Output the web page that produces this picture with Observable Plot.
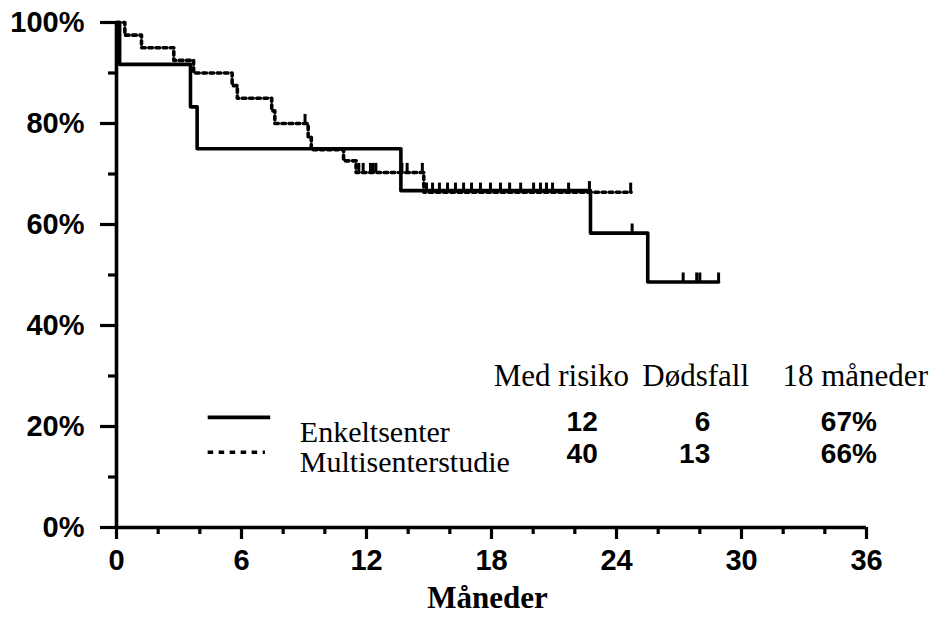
<!DOCTYPE html>
<html>
<head>
<meta charset="utf-8">
<script src="https://cdn.jsdelivr.net/npm/d3@7"></script>
<script src="https://cdn.jsdelivr.net/npm/@observablehq/plot@0.6"></script>
<style>
  html, body { margin: 0; padding: 0; background: white; }
</style>
</head>
<body>
<div id="chart"></div>
<script>
// ---- data ----
const singleTimes = [0, 0.15, 3.55, 3.87, 13.65, 22.75, 25.5, 28.9];
const singleSurv  = [100, 91.7, 83.3, 75.0, 66.7, 58.3, 48.6, 48.6];
const singleCensor = [22.7, 24.75, 27.2, 27.85, 28.0, 28.9];

const multiTimes = [0, 0.4, 1.2, 2.75, 3.7, 5.55, 5.8, 7.45, 7.6, 9.2, 9.35, 10.9, 11.5, 14.75, 24.7];
const multiSurv  = [100, 97.5, 95, 92.5, 90, 87.5, 85, 82.5, 80, 77.4, 74.8, 72.6, 70.3, 66.4, 66.4];
const multiCensor = [9.05, 11.63, 11.84, 12.19, 12.32, 12.45, 13.7, 13.95, 14.68,
  14.88, 15.17, 15.5, 15.89, 16.27, 16.66, 17.04, 17.47, 17.95, 18.43, 18.87, 19.4,
  20.02, 20.35, 20.64, 20.93, 21.7, 24.68];

const groups = ["Enkeltsenter", "Multisenterstudie"];
const atRisk = [12, 40];
const deaths = [6, 13];
const surv18 = ["67%", "66%"];
const tableHeaders = ["Med risiko", "Dødsfall", "18 måneder"];

const xTicks = [0, 6, 12, 18, 24, 30, 36];
const xMinor = [2, 4, 8, 10, 14, 16, 20, 22, 26, 28, 32, 34];
const yTicks = [0, 20, 40, 60, 80, 100];
const yMinor = [10, 30, 50, 70, 90];

// ---- helpers ----
const toPoints = (ts, ss) => ts.map((t, i) => ({t, s: ss[i]}));
const stepAt = (ts, ss, t) => {
  let v = ss[0];
  for (let i = 0; i < ts.length; i++) if (ts[i] <= t) v = ss[i];
  return v;
};
const singlePts = toPoints(singleTimes, singleSurv);
const multiPts = toPoints(multiTimes, multiSurv);
const singleCens = singleCensor.map(t => ({t, s: stepAt(singleTimes, singleSurv, t)}));
const multiCens = multiCensor.map(t => ({t, s: stepAt(multiTimes, multiSurv, t)}));

const tickH = 1.8;
const serif = "Liberation Serif";
const sans = "Liberation Sans";
const lw = 3.6;

// table layout (in data units)
const headerX = [21.35, 27.8];
const headerEndX = 38.95;
const numX = [23.1, 28.5, 36.5];
const headerY = 28.1;
const rowY = [19.2, 12.7];
const legendX1 = 4.4;
const legendLineY = [21.8, 14.9];
const legendTextX = 8.8;
const legendTextY = [17.0, 10.9];

const rows = groups.map((g, i) => ({g, i}));

const chart = Plot.plot({
  width: 933,
  height: 619,
  marginLeft: 116,
  marginRight: 67,
  marginTop: 22,
  marginBottom: 92,
  x: {domain: [0, 36]},
  y: {domain: [0, 100]},
  style: {background: "white", fontFamily: sans, color: "black", overflow: "visible"},
  marks: [
    // axes
    Plot.axisY(yTicks, {tickSize: 16, tickPadding: 16, tickFormat: d => d + "%",
      fontSize: 29, fontWeight: "bold", fontFamily: sans, strokeWidth: 3.2, label: null}),
    Plot.axisY(yMinor, {tickSize: 8, tickFormat: () => "", strokeWidth: 3.2, label: null}),
    Plot.axisX(xTicks, {tickSize: 12, tickPadding: 10, fontSize: 29, fontWeight: "bold",
      fontFamily: sans, strokeWidth: 3.2, label: null}),
    Plot.axisX(xMinor, {tickSize: 7, tickFormat: () => "", strokeWidth: 3.2, label: null}),
    Plot.ruleY([0], {stroke: "black", strokeWidth: 3.6}),
    Plot.ruleX([0], {stroke: "black", strokeWidth: 3.6}),
    Plot.text(["Måneder"], {frameAnchor: "bottom", dx: -4, dy: 80, lineAnchor: "bottom",
      fontFamily: serif, fontWeight: "bold", fontSize: 31}),

    // curves
    Plot.line(multiPts, {x: "t", y: "s", curve: "step-after", stroke: "black",
      strokeWidth: lw, strokeDasharray: "3.6,3.6"}),
    Plot.line(singlePts, {x: "t", y: "s", curve: "step-after", stroke: "black",
      strokeWidth: lw}),
    Plot.ruleX(multiCens, {x: "t", y1: "s", y2: d => d.s + tickH, stroke: "black", strokeWidth: 3}),
    Plot.ruleX(singleCens, {x: "t", y1: "s", y2: d => d.s + tickH, stroke: "black", strokeWidth: 3}),

    // legend
    Plot.ruleY([rows[0]], {y: legendLineY[0], x1: legendX1, x2: 7.4,
      stroke: "black", strokeWidth: lw}),
    Plot.ruleY([rows[1]], {y: legendLineY[1], x1: legendX1, x2: 7.15,
      stroke: "black", strokeWidth: lw, strokeDasharray: "5.5,5.5"}),
    Plot.text(rows, {x: legendTextX, y: d => legendTextY[d.i], text: "g", textAnchor: "start",
      lineAnchor: "bottom", fontFamily: serif, fontSize: 30}),

    // table
    Plot.text(tableHeaders.slice(0, 2), {x: (d, i) => headerX[i], y: headerY, text: d => d,
      lineAnchor: "bottom", fontFamily: serif, fontSize: 31}),
    Plot.text(tableHeaders.slice(2), {x: headerEndX, y: headerY, text: d => d,
      textAnchor: "end", lineAnchor: "bottom", fontFamily: serif, fontSize: 31}),
    Plot.text(rows, {x: numX[0], y: d => rowY[d.i], text: d => String(atRisk[d.i]),
      textAnchor: "end", lineAnchor: "bottom", fontFamily: sans, fontWeight: "bold", fontSize: 28}),
    Plot.text(rows, {x: numX[1], y: d => rowY[d.i], text: d => String(deaths[d.i]),
      textAnchor: "end", lineAnchor: "bottom", fontFamily: sans, fontWeight: "bold", fontSize: 28}),
    Plot.text(rows, {x: numX[2], y: d => rowY[d.i], text: d => surv18[d.i],
      textAnchor: "end", lineAnchor: "bottom", fontFamily: sans, fontWeight: "bold", fontSize: 28})
  ]
});
document.getElementById("chart").appendChild(chart);
</script>
</body>
</html>
